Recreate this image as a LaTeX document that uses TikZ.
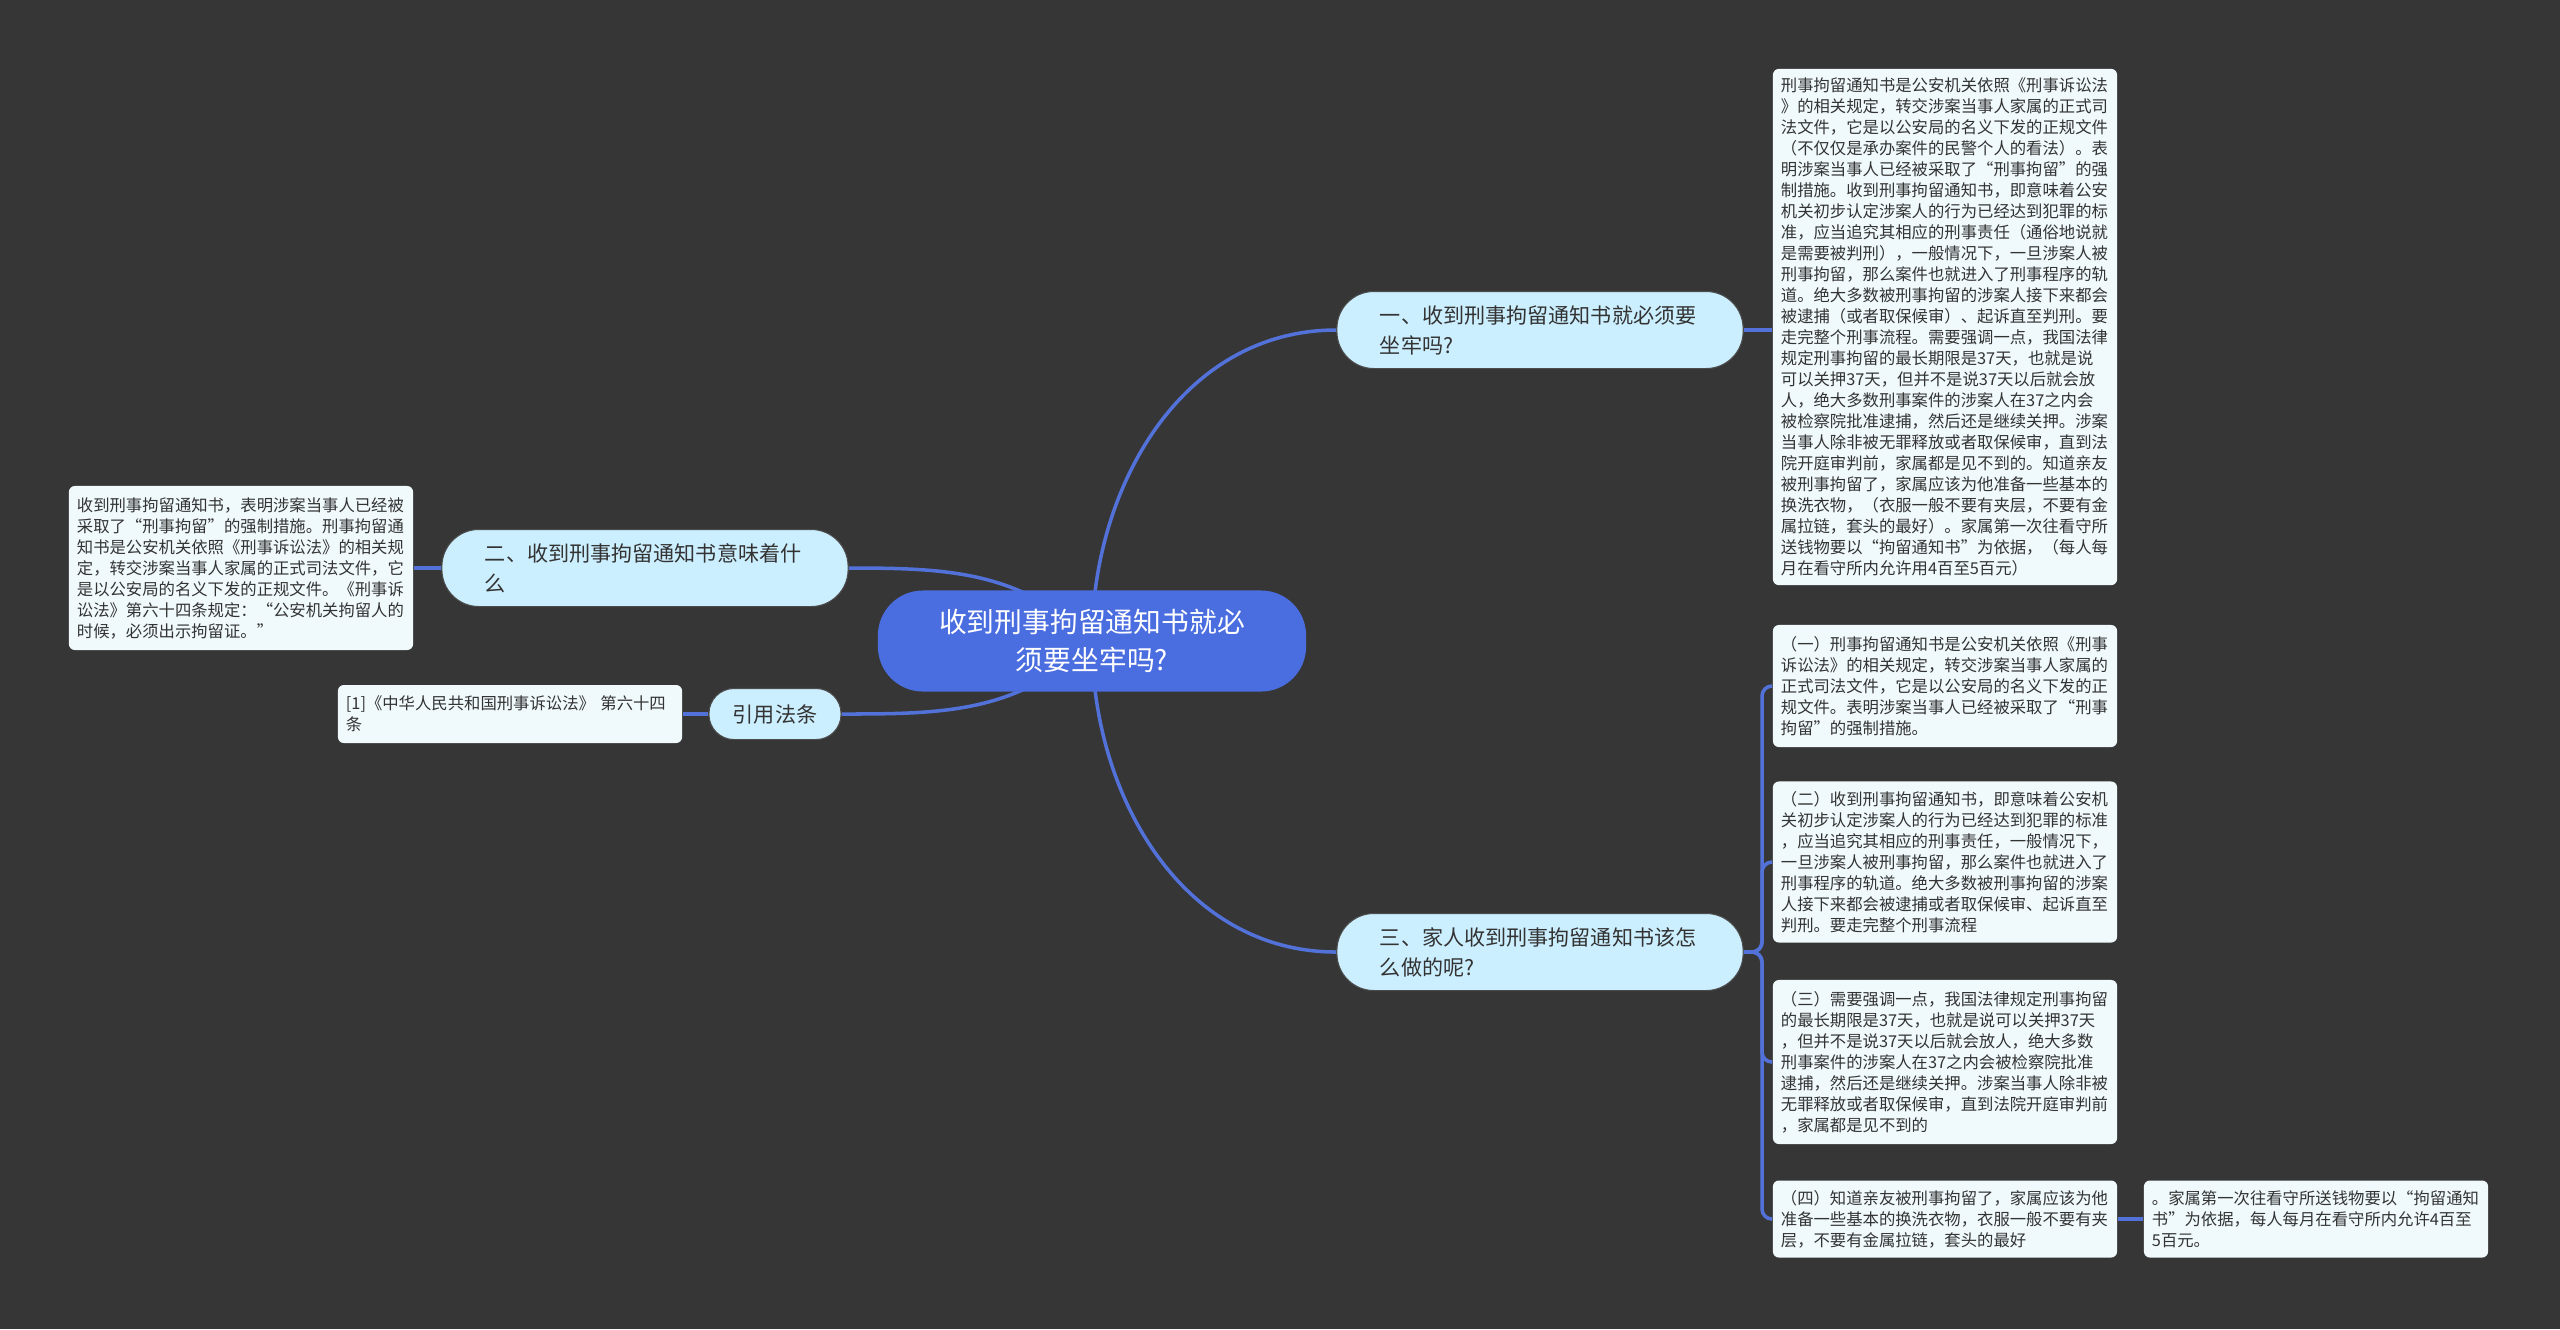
\documentclass[tikz,border=0pt]{standalone}
\usepackage{fontspec}
\setmainfont{Noto Sans CJK SC}
\usepackage{xcolor}
\usetikzlibrary{backgrounds}

\definecolor{bgdark}{HTML}{363636}
\definecolor{rootblue}{HTML}{4A6DE0}
\definecolor{topicfill}{HTML}{CCEFFF}
\definecolor{notefill}{HTML}{F0FAFD}
\definecolor{linkblue}{HTML}{5272DA}
\definecolor{inkgray}{HTML}{333333}

\begin{document}
\begin{tikzpicture}[
    x=0.01cm, y=-0.01cm,
    root/.style={
        rectangle, rounded corners=0.45cm, fill=rootblue, text=white,
        minimum width=4.28cm, minimum height=1.01cm, inner sep=0pt,
        align=center, font=\fontsize{7.9}{11}\selectfont
    },
    topic/.style={
        rectangle, rounded corners=0.37cm, fill=topicfill, draw=black!70,
        line width=0.3pt, text=inkgray, minimum width=#1, minimum height=0.77cm,
        inner sep=0pt, align=left, font=\fontsize{6}{8.5}\selectfont
    },
    note/.style={
        rectangle, rounded corners=0.06cm, fill=notefill, text=inkgray,
        minimum width=3.44cm, minimum height=#1, inner xsep=0.08cm, inner ysep=0pt,
        text width=3.28cm, align=left, font=\fontsize{4.65}{5.97}\selectfont
    },
    link/.style={linkblue, line width=1pt},
]
\begin{scope}[on background layer]
\fill[bgdark] (0,0) rectangle (2560,1329);
\end{scope}
\useasboundingbox (0,0) rectangle (2560,1329);

% Centre
\node[root] (root) at (1092,641) {收到刑事拘留通知书就必\\须要坐牢吗?};

% Topics
\node[topic=4.06cm, text width=3.2cm] (q1) at (1540,330) {一、收到刑事拘留通知书就必须要\\坐牢吗?};
\node[topic=4.06cm, text width=3.2cm] (q2) at (645,568) {二、收到刑事拘留通知书意味着什\\么};
\node[topic=4.06cm, text width=3.2cm] (q3) at (1540,952) {三、家人收到刑事拘留通知书该怎\\么做的呢?};
\node[topic=1.32cm, rounded corners=0.25cm, align=center, minimum height=0.51cm] (cite) at (775,714) {引用法条};

% Notes
\node[note=5.16cm] (n1) at (1945,327) {刑事拘留通知书是公安机关依照《刑事诉讼法\\》的相关规定，转交涉案当事人家属的正式司\\法文件，它是以公安局的名义下发的正规文件\\（不仅仅是承办案件的民警个人的看法）。表\\明涉案当事人已经被采取了“刑事拘留”的强\\制措施。收到刑事拘留通知书，即意味着公安\\机关初步认定涉案人的行为已经达到犯罪的标\\准，应当追究其相应的刑事责任（通俗地说就\\是需要被判刑），一般情况下，一旦涉案人被\\刑事拘留，那么案件也就进入了刑事程序的轨\\道。绝大多数被刑事拘留的涉案人接下来都会\\被逮捕（或者取保候审）、起诉直至判刑。要\\走完整个刑事流程。需要强调一点，我国法律\\规定刑事拘留的最长期限是37天，也就是说\\可以关押37天，但并不是说37天以后就会放\\人，绝大多数刑事案件的涉案人在37之内会\\被检察院批准逮捕，然后还是继续关押。涉案\\当事人除非被无罪释放或者取保候审，直到法\\院开庭审判前，家属都是见不到的。知道亲友\\被刑事拘留了，家属应该为他准备一些基本的\\换洗衣物，（衣服一般不要有夹层，不要有金\\属拉链，套头的最好）。家属第一次往看守所\\送钱物要以“拘留通知书”为依据，（每人每\\月在看守所内允许用4百至5百元）};
\node[note=1.22cm] (n2) at (1945,686) {（一）刑事拘留通知书是公安机关依照《刑事\\诉讼法》的相关规定，转交涉案当事人家属的\\正式司法文件，它是以公安局的名义下发的正\\规文件。表明涉案当事人已经被采取了“刑事\\拘留”的强制措施。};
\node[note=1.61cm] (n3) at (1945,862) {（二）收到刑事拘留通知书，即意味着公安机\\关初步认定涉案人的行为已经达到犯罪的标准\\，应当追究其相应的刑事责任，一般情况下，\\一旦涉案人被刑事拘留，那么案件也就进入了\\刑事程序的轨道。绝大多数被刑事拘留的涉案\\人接下来都会被逮捕或者取保候审、起诉直至\\判刑。要走完整个刑事流程};
\node[note=1.64cm] (n4) at (1945,1062) {（三）需要强调一点，我国法律规定刑事拘留\\的最长期限是37天，也就是说可以关押37天\\，但并不是说37天以后就会放人，绝大多数\\刑事案件的涉案人在37之内会被检察院批准\\逮捕，然后还是继续关押。涉案当事人除非被\\无罪释放或者取保候审，直到法院开庭审判前\\，家属都是见不到的};
\node[note=0.77cm] (n5) at (1945,1219) {（四）知道亲友被刑事拘留了，家属应该为他\\准备一些基本的换洗衣物，衣服一般不要有夹\\层，不要有金属拉链，套头的最好};
\node[note=0.77cm] (n6) at (2316,1219) {。家属第一次往看守所送钱物要以“拘留通知\\书”为依据，每人每月在看守所内允许4百至\\5百元。};
\node[note=1.64cm] (n7) at (241,568) {收到刑事拘留通知书，表明涉案当事人已经被\\采取了“刑事拘留”的强制措施。刑事拘留通\\知书是公安机关依照《刑事诉讼法》的相关规\\定，转交涉案当事人家属的正式司法文件，它\\是以公安局的名义下发的正规文件。《刑事诉\\讼法》第六十四条规定：“公安机关拘留人的\\时候，必须出示拘留证。”};
\node[note=0.58cm] (n8) at (510,714) {[1]《中华人民共和国刑事诉讼法》 第六十四\\条};

% Links
\begin{scope}[on background layer]
\draw[link] (root.center) to[out=90,in=180] (q1.west);
\draw[link] (root.center) to[out=-90,in=180] (q3.west);
\draw[link] (root.center) to[out=135,in=0] (q2.east);
\draw[link] (root.center) to[out=-135,in=0] (cite.east);
\draw[link] (q1.east) -- (q1.east -| n1.west);
\draw[link] (q2.west) -- (q2.west -| n7.east);
\draw[link] (cite.west) -- (cite.west -| n8.east);
\draw[link] (n5.east) -- (n6.west);
\foreach \n in {n2,n3,n4,n5}
    \draw[link, rounded corners=0.1cm] (q3.east) -- (1762,952) |- (\n.west);
\end{scope}
\end{tikzpicture}
\end{document}
